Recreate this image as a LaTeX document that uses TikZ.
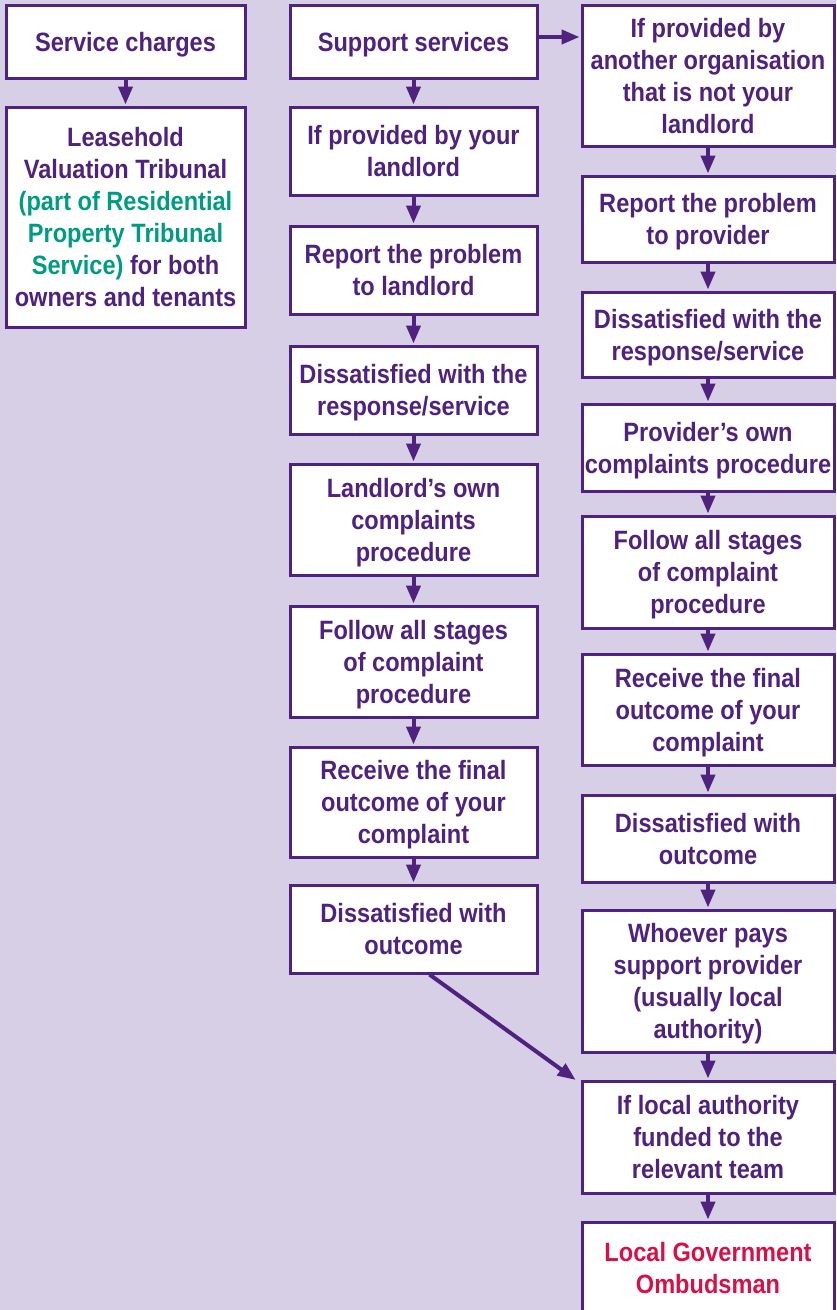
\documentclass[tikz,border=0pt]{standalone}
\usepackage{fontspec}
\setmainfont{Liberation Sans}[FakeStretch=0.89]
\usepackage{xcolor}
\usetikzlibrary{arrows.meta}
\definecolor{lavbg}{RGB}{214,207,229}
\definecolor{purp}{RGB}{80,34,128}
\definecolor{tgreen}{RGB}{0,156,130}
\definecolor{ored}{RGB}{212,18,72}

\begin{document}
\begin{tikzpicture}[x=1pt,y=-1pt,
  box/.style={draw=purp, line width=3pt, fill=white, inner sep=0pt, align=center,
    text depth=0pt, text=purp, font=\fontsize{26.5}{32}\selectfont\bfseries},
  lcol/.style={box, minimum width=239pt},
  mcol/.style={box, minimum width=247pt},
  rcol/.style={box, minimum width=252pt},
  arr/.style={draw=purp, line width=4pt, -{Triangle[length=18pt,width=14pt]}, shorten >=1pt}]
\useasboundingbox (0,0) rectangle (836,1310);
\fill[lavbg] (0,0) rectangle (836,1310);

\node[lcol, minimum height=73pt] (sc) at (125.5,41.5) {Service charges};
\node[lcol, minimum height=220pt] (lvt) at (125.5,217) {Leasehold\\Valuation Tribunal\\{\color{tgreen}(part of Residential}\\{\color{tgreen}Property Tribunal}\\{\color{tgreen}Service)} for both\\owners and tenants};

\node[mcol, minimum height=73pt] (ss) at (413.5,41.5) {Support services};
\node[mcol, minimum height=88pt] (mland) at (413.5,151) {If provided by your\\landlord};
\node[mcol, minimum height=88pt] (mrep) at (413.5,270) {Report the problem\\to landlord};
\node[mcol, minimum height=88pt] (mdis) at (413.5,390) {Dissatisfied with the\\response/service};
\node[mcol, minimum height=111pt] (mown) at (413.5,519.5) {Landlord’s own\\complaints\\procedure};
\node[mcol, minimum height=111pt] (mfol) at (413.5,661.5) {Follow all stages\\of complaint\\procedure};
\node[mcol, minimum height=110pt] (mrec) at (413.5,802) {Receive the final\\outcome of your\\complaint};
\node[mcol, minimum height=88pt] (mout) at (413.5,929) {Dissatisfied with\\outcome};

\node[rcol, minimum height=141pt] (rorg) at (708,75.5) {If provided by\\another organisation\\that is not your\\landlord};
\node[rcol, minimum height=86pt] (rrep) at (708,219) {Report the problem\\to provider};
\node[rcol, minimum height=85pt] (rdis) at (708,334.5) {Dissatisfied with the\\response/service};
\node[rcol, minimum height=87pt] (rown) at (708,447.5) {Provider’s own\\complaints procedure};
\node[rcol, minimum height=112pt] (rfol) at (708,572) {Follow all stages\\of complaint\\procedure};
\node[rcol, minimum height=111pt] (rrec) at (708,709.5) {Receive the final\\outcome of your\\complaint};
\node[rcol, minimum height=87pt] (rout) at (708,838.5) {Dissatisfied with\\outcome};
\node[rcol, minimum height=142pt] (rpay) at (708,981) {Whoever pays\\support provider\\(usually local\\authority)};
\node[rcol, minimum height=112pt] (rla) at (708,1137) {If local authority\\funded to the\\relevant team};
\node[rcol, minimum height=92pt] (omb) at (708,1268) {\color{ored}Local Government\\\color{ored}Ombudsman};

\draw[arr] (sc) -- (lvt);
\foreach \a/\b in {ss/mland,mland/mrep,mrep/mdis,mdis/mown,mown/mfol,mfol/mrec,mrec/mout}
  \draw[arr] (\a) -- (\b);
\foreach \a/\b in {rorg/rrep,rrep/rdis,rdis/rown,rown/rfol,rfol/rrec,rrec/rout,rout/rpay,rpay/rla,rla/omb}
  \draw[arr] (\a) -- (\b);
\draw[arr] ([yshift=4.5pt]ss.east) -- ([yshift=4.5pt]ss.east -| rorg.west);
\draw[arr] ([xshift=16pt]mout.south) -- ([xshift=-4pt,yshift=-1pt]rla.north west);
\end{tikzpicture}
\end{document}
